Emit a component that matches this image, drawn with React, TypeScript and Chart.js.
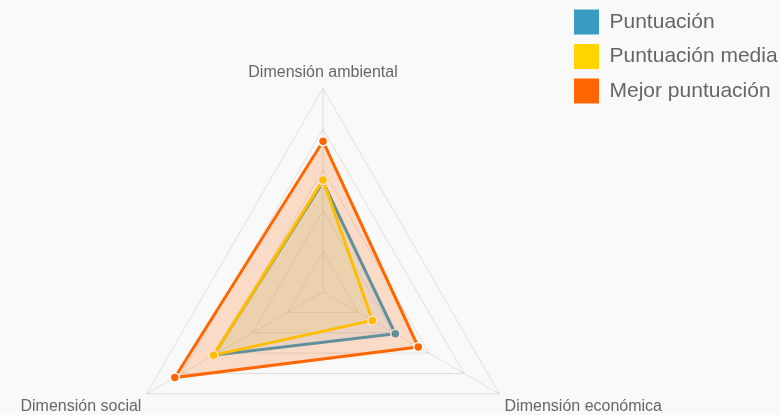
import React, { useEffect, useRef } from 'react';
import { Chart, registerables } from 'chart.js';

Chart.register(...registerables);

const categories = ['Dimensión ambiental', 'Dimensión económica', 'Dimensión social'];
const seriesNames = ['Puntuación', 'Puntuación media', 'Mejor puntuación'];
const puntuacion = [54, 41, 62];
const puntuacionMedia = [55, 28, 62];
const mejorPuntuacion = [74, 54, 84];
const scaleMin = 0;
const scaleMax = 100;
const scaleStep = 20;

const lineColors = ['#3a9bc2', '#ffd400', '#ff6600'];
const fillColors = ['rgba(58,155,194,0.1)', 'rgba(255,212,0,0.1)', 'rgba(255,102,0,0.2)'];
const FONT = "'Helvetica Neue', Helvetica, Arial, 'Liberation Sans', sans-serif";

const CANVAS_W = 780;
const CANVAS_H = 514;
const LEGEND_BOX_X = 574;
const LEGEND_PAD = 9.5;

const legendPlacer = {
  id: 'legendPlacer',
  afterLayout(chart: any) {
    const lg = chart.legend;
    if (!lg) return;
    lg.left = LEGEND_BOX_X - LEGEND_PAD;
    lg.right = chart.width;
    lg.top = 0;
    lg.bottom = chart.height;
  },
};

export default function App() {
  const ref = useRef<HTMLCanvasElement | null>(null);

  useEffect(() => {
    document.body.style.margin = '0';
    document.body.style.background = '#f9f9f9';
    if (!ref.current) return;
    const series = [puntuacion, puntuacionMedia, mejorPuntuacion];
    // lower order is drawn on top: orange on top, teal at the bottom
    const orders = [2, 1, 0];
    const chart = new Chart(ref.current, {
      type: 'radar',
      data: {
        labels: categories,
        datasets: series.map((d, i) => ({
          label: seriesNames[i],
          data: d,
          order: orders[i],
          borderColor: lineColors[i],
          backgroundColor: fillColors[i],
          pointBackgroundColor: lineColors[i],
          pointBorderColor: '#ffffff',
          pointBorderWidth: 1.5,
          pointRadius: 4.5,
          borderWidth: 3,
          fill: true,
        })),
      },
      plugins: [legendPlacer],
      options: {
        responsive: false,
        animation: false,
        layout: { padding: { left: 0, right: 102, top: 44, bottom: 0 } },
        plugins: {
          tooltip: { enabled: false },
          legend: {
            position: 'chartArea',
            align: 'start',
            labels: {
              boxWidth: 25,
              boxHeight: 25,
              padding: LEGEND_PAD,
              color: '#666',
              font: { size: 21, family: FONT },
              sort: (a: any, b: any) => a.datasetIndex - b.datasetIndex,
              generateLabels: (c: any) =>
                Chart.defaults.plugins.legend.labels.generateLabels(c).map((l: any) => ({
                  ...l,
                  fillStyle: lineColors[l.datasetIndex],
                  strokeStyle: lineColors[l.datasetIndex],
                  lineWidth: 0,
                })),
            },
          },
        },
        scales: {
          r: {
            min: scaleMin,
            max: scaleMax,
            ticks: { display: false, stepSize: scaleStep },
            grid: { color: 'rgba(0,0,0,0.1)', lineWidth: 1 },
            angleLines: { color: 'rgba(0,0,0,0.1)', lineWidth: 1 },
            pointLabels: {
              color: '#666',
              padding: 6,
              font: { size: 16, family: FONT, lineHeight: 1.25 },
            },
          },
        },
      } as any,
    });
    return () => chart.destroy();
  }, []);

  return (
    <div style={{ width: CANVAS_W, height: 415, overflow: 'hidden' }}>
      <canvas ref={ref} width={CANVAS_W} height={CANVAS_H} style={{ display: 'block', width: CANVAS_W, height: CANVAS_H }} />
    </div>
  );
}
